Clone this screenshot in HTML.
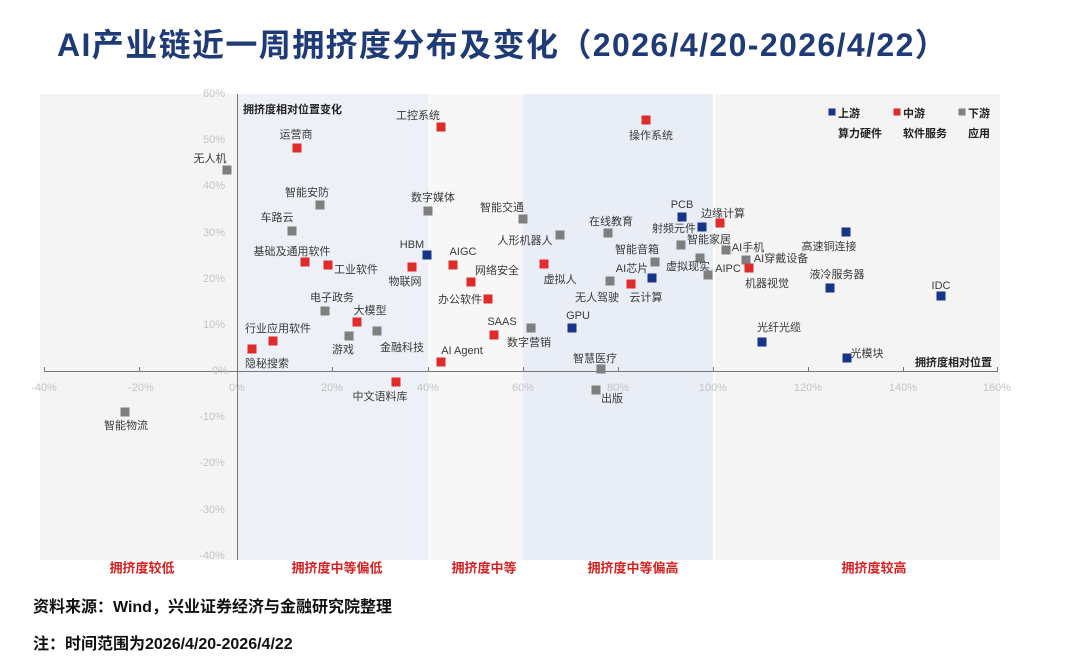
<!DOCTYPE html>
<html><head><meta charset="utf-8"><style>
body{margin:0;width:1080px;height:668px;background:#fff;position:relative;overflow:hidden;font-family:"Liberation Sans","Noto Sans CJK SC",sans-serif}
.a{position:absolute}
.l{position:absolute;transform:translate(-50%,-50%);font-size:11px;color:#3a3a3a;white-space:nowrap}
.s{position:absolute;width:9px;height:9px;transform:translate(-50%,-50%)}
.r{background:#e02b2b}.b{background:#16358a}.g{background:#7f7f7f}
.t{position:absolute;font-size:11px;color:#c4c4c4;transform:translate(-50%,-50%)}
.c{position:absolute;transform:translate(-50%,-50%);font-size:13px;font-weight:bold;color:#d92020;white-space:nowrap}
</style></head><body>
<div class="a" style="left:57px;top:20px;font-size:32px;letter-spacing:1.4px;font-weight:bold;color:#1f3b77;white-space:nowrap">AI产业链近一周拥挤度分布及变化（2026/4/20-2026/4/22）</div>
<div class="a" style="left:40px;top:94px;width:960px;height:466px;background:#f4f4f4"></div>
<div class="a" style="left:237px;top:94px;width:191px;height:466px;background:#edf0f6"></div>
<div class="a" style="left:428px;top:94px;width:95px;height:466px;background:#f7f7f7"></div>
<div class="a" style="left:523px;top:94px;width:190px;height:466px;background:#e9edf5"></div>
<div class="a" style="left:713px;top:94px;width:2px;height:466px;background:#fff"></div>
<div class="a" style="left:237px;top:94px;width:1px;height:466px;background:#777"></div>
<div class="a" style="left:44px;top:371px;width:954px;height:1px;background:#777"></div>
<div class="a" style="left:44px;top:367px;width:1px;height:5px;background:#777"></div>
<div class="a" style="left:139px;top:367px;width:1px;height:5px;background:#777"></div>
<div class="a" style="left:332px;top:367px;width:1px;height:5px;background:#777"></div>
<div class="a" style="left:428px;top:367px;width:1px;height:5px;background:#777"></div>
<div class="a" style="left:523px;top:367px;width:1px;height:5px;background:#777"></div>
<div class="a" style="left:618px;top:367px;width:1px;height:5px;background:#777"></div>
<div class="a" style="left:713px;top:367px;width:1px;height:5px;background:#777"></div>
<div class="a" style="left:808px;top:367px;width:1px;height:5px;background:#777"></div>
<div class="a" style="left:903px;top:367px;width:1px;height:5px;background:#777"></div>
<div class="a" style="left:997px;top:367px;width:1px;height:5px;background:#777"></div>
<div class="t" style="left:214px;top:94px">60%</div><div class="t" style="left:214px;top:140px">50%</div><div class="t" style="left:214px;top:186px">40%</div><div class="t" style="left:214px;top:233px">30%</div><div class="t" style="left:214px;top:279px">20%</div><div class="t" style="left:214px;top:325px">10%</div><div class="t" style="left:220px;top:371px">0%</div><div class="t" style="left:212px;top:417px">-10%</div><div class="t" style="left:212px;top:463px">-20%</div><div class="t" style="left:212px;top:510px">-30%</div><div class="t" style="left:212px;top:556px">-40%</div>
<div class="t" style="left:44px;top:388px">-40%</div><div class="t" style="left:141px;top:388px">-20%</div><div class="t" style="left:237px;top:388px">0%</div><div class="t" style="left:332px;top:388px">20%</div><div class="t" style="left:428px;top:388px">40%</div><div class="t" style="left:523px;top:388px">60%</div><div class="t" style="left:618px;top:388px">80%</div><div class="t" style="left:713px;top:388px">100%</div><div class="t" style="left:808px;top:388px">120%</div><div class="t" style="left:903px;top:388px">140%</div><div class="t" style="left:997px;top:388px">160%</div>
<div class="a" style="left:243px;top:101px;font-size:11px;font-weight:bold;color:#222">拥挤度相对位置变化</div>
<div class="a" style="left:915px;top:354px;font-size:11px;font-weight:bold;color:#222">拥挤度相对位置</div>
<div class="s b" style="left:832px;top:112px;width:7px;height:7px"></div><div class="a" style="left:838px;top:105px;font-size:11px;font-weight:bold;color:#222">上游</div>
<div class="s r" style="left:897px;top:112px;width:7px;height:7px"></div><div class="a" style="left:903px;top:105px;font-size:11px;font-weight:bold;color:#222">中游</div>
<div class="s g" style="left:962px;top:112px;width:7px;height:7px"></div><div class="a" style="left:968px;top:105px;font-size:11px;font-weight:bold;color:#222">下游</div>
<div class="a" style="left:838px;top:125px;font-size:11px;font-weight:bold;color:#222">算力硬件</div>
<div class="a" style="left:903px;top:125px;font-size:11px;font-weight:bold;color:#222">软件服务</div>
<div class="a" style="left:968px;top:125px;font-size:11px;font-weight:bold;color:#222">应用</div>
<div class="s g" style="left:227px;top:170px"></div><div class="l" style="left:210px;top:158px">无人机</div>
<div class="s r" style="left:297px;top:148px"></div><div class="l" style="left:296px;top:134px">运营商</div>
<div class="s r" style="left:441px;top:127px"></div><div class="l" style="left:418px;top:115px">工控系统</div>
<div class="s r" style="left:646px;top:120px"></div><div class="l" style="left:651px;top:135px">操作系统</div>
<div class="s g" style="left:320px;top:205px"></div><div class="l" style="left:307px;top:192px">智能安防</div>
<div class="s g" style="left:428px;top:211px"></div><div class="l" style="left:433px;top:197px">数字媒体</div>
<div class="s g" style="left:292px;top:231px"></div><div class="l" style="left:277px;top:217px">车路云</div>
<div class="s g" style="left:523px;top:219px"></div><div class="l" style="left:502px;top:207px">智能交通</div>
<div class="s g" style="left:560px;top:235px"></div><div class="l" style="left:525px;top:240px">人形机器人</div>
<div class="s g" style="left:608px;top:233px"></div><div class="l" style="left:611px;top:221px">在线教育</div>
<div class="s b" style="left:682px;top:217px"></div><div class="l" style="left:682px;top:205px">PCB</div>
<div class="s b" style="left:702px;top:227px"></div><div class="l" style="left:674px;top:228px">射频元件</div>
<div class="s r" style="left:720px;top:223px"></div><div class="l" style="left:723px;top:213px">边缘计算</div>
<div class="s g" style="left:681px;top:245px"></div><div class="l" style="left:709px;top:239px">智能家居</div>
<div class="s g" style="left:726px;top:250px"></div><div class="l" style="left:748px;top:247px">AI手机</div>
<div class="s b" style="left:846px;top:232px"></div><div class="l" style="left:829px;top:246px">高速铜连接</div>
<div class="s r" style="left:305px;top:262px"></div><div class="l" style="left:292px;top:251px">基础及通用软件</div>
<div class="s r" style="left:328px;top:265px"></div><div class="l" style="left:356px;top:269px">工业软件</div>
<div class="s b" style="left:427px;top:255px"></div><div class="l" style="left:412px;top:245px">HBM</div>
<div class="s r" style="left:453px;top:265px"></div><div class="l" style="left:463px;top:252px">AIGC</div>
<div class="s r" style="left:412px;top:267px"></div><div class="l" style="left:405px;top:281px">物联网</div>
<div class="s r" style="left:544px;top:264px"></div><div class="l" style="left:560px;top:279px">虚拟人</div>
<div class="s g" style="left:655px;top:262px"></div><div class="l" style="left:637px;top:249px">智能音箱</div>
<div class="s g" style="left:700px;top:258px"></div><div class="l" style="left:688px;top:266px">虚拟现实</div>
<div class="s g" style="left:746px;top:260px"></div><div class="l" style="left:781px;top:258px">AI穿戴设备</div>
<div class="s r" style="left:749px;top:268px"></div><div class="l" style="left:767px;top:283px">机器视觉</div>
<div class="s g" style="left:708px;top:275px"></div><div class="l" style="left:728px;top:269px">AIPC</div>
<div class="s b" style="left:652px;top:278px"></div><div class="l" style="left:632px;top:268px">AI芯片</div>
<div class="s r" style="left:471px;top:282px"></div><div class="l" style="left:497px;top:270px">网络安全</div>
<div class="s g" style="left:610px;top:281px"></div><div class="l" style="left:597px;top:297px">无人驾驶</div>
<div class="s r" style="left:631px;top:284px"></div><div class="l" style="left:646px;top:297px">云计算</div>
<div class="s b" style="left:830px;top:288px"></div><div class="l" style="left:837px;top:274px">液冷服务器</div>
<div class="s b" style="left:941px;top:296px"></div><div class="l" style="left:941px;top:286px">IDC</div>
<div class="s r" style="left:488px;top:299px"></div><div class="l" style="left:460px;top:299px">办公软件</div>
<div class="s g" style="left:325px;top:311px"></div><div class="l" style="left:332px;top:297px">电子政务</div>
<div class="s r" style="left:357px;top:322px"></div><div class="l" style="left:370px;top:310px">大模型</div>
<div class="s r" style="left:494px;top:335px"></div><div class="l" style="left:502px;top:322px">SAAS</div>
<div class="s g" style="left:531px;top:328px"></div><div class="l" style="left:529px;top:342px">数字营销</div>
<div class="s b" style="left:572px;top:328px"></div><div class="l" style="left:578px;top:316px">GPU</div>
<div class="s r" style="left:273px;top:341px"></div><div class="l" style="left:278px;top:328px">行业应用软件</div>
<div class="s g" style="left:349px;top:336px"></div><div class="l" style="left:343px;top:349px">游戏</div>
<div class="s g" style="left:377px;top:331px"></div><div class="l" style="left:402px;top:347px">金融科技</div>
<div class="s b" style="left:762px;top:342px"></div><div class="l" style="left:779px;top:327px">光纤光缆</div>
<div class="s r" style="left:252px;top:349px"></div><div class="l" style="left:267px;top:363px">隐秘搜索</div>
<div class="s r" style="left:441px;top:362px"></div><div class="l" style="left:462px;top:351px">AI Agent</div>
<div class="s b" style="left:847px;top:358px"></div><div class="l" style="left:867px;top:353px">光模块</div>
<div class="s g" style="left:601px;top:369px"></div><div class="l" style="left:595px;top:358px">智慧医疗</div>
<div class="s r" style="left:396px;top:382px"></div><div class="l" style="left:380px;top:396px">中文语料库</div>
<div class="s g" style="left:596px;top:390px"></div><div class="l" style="left:612px;top:398px">出版</div>
<div class="s g" style="left:125px;top:412px"></div><div class="l" style="left:126px;top:425px">智能物流</div>
<div class="c" style="left:142px;top:567px">拥挤度较低</div>
<div class="c" style="left:337px;top:567px">拥挤度中等偏低</div>
<div class="c" style="left:484px;top:567px">拥挤度中等</div>
<div class="c" style="left:633px;top:567px">拥挤度中等偏高</div>
<div class="c" style="left:874px;top:567px">拥挤度较高</div>
<div class="a" style="left:33px;top:593px;font-size:16px;font-weight:bold;color:#111">资料来源：Wind，兴业证券经济与金融研究院整理</div>
<div class="a" style="left:33px;top:630px;font-size:16px;font-weight:bold;color:#111">注：时间范围为2026/4/20-2026/4/22</div>
</body></html>
